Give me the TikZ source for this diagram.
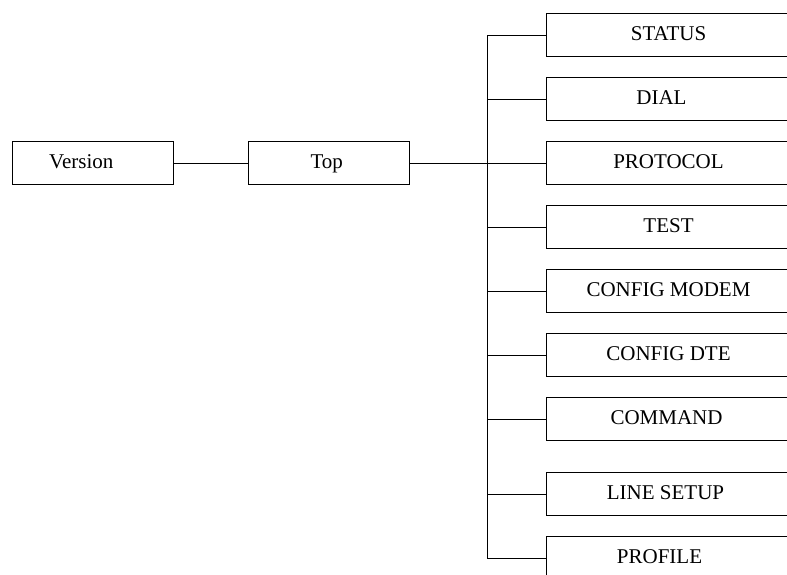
\documentclass[tikz,border=0pt]{standalone}
\usepackage{fontspec}
\setmainfont{Liberation Serif}
\begin{document}
\begin{tikzpicture}[x=1pt,y=-1pt,
  box/.style={draw=black,line width=1pt,rectangle,inner sep=0pt,minimum height=43pt,
    text height=15pt,text depth=3.5pt,
    font=\fontsize{21}{24}\selectfont,anchor=north west},
  leftbox/.style={box,minimum width=160.5pt},
  rightbox/.style={box,minimum width=244pt},
  wire/.style={draw=black,line width=1pt}]
\clip (0,0) rectangle (787,574);
\fill[white] (0,0) rectangle (787,574);
\node[leftbox] (version) at (12,141) {Version\kern23pt};
\node[leftbox] (top) at (248,141) {Top\kern4pt};
\coordinate (bus) at (487,162.5);
\node[rightbox] (s1) at (546,13) {STATUS};
\node[rightbox] (s2) at (546,77) {DIAL\kern14pt};
\node[rightbox] (s3) at (546,141) {PROTOCOL};
\node[rightbox] (s4) at (546,205) {TEST};
\node[rightbox] (s5) at (546,269) {CONFIG MODEM};
\node[rightbox] (s6) at (546,333) {CONFIG DTE};
\node[rightbox] (s7) at (546,397) {COMMAND\kern4pt};
\node[rightbox] (s8) at (546,472) {LINE SETUP\kern6pt};
\node[rightbox] (s9) at (546,536) {PROFILE\kern18pt};
\draw[wire] (version.east) -- (top.west);
\draw[wire] (top.east) -- (bus |- top.east);
\draw[wire] (bus |- s1.west) -- (bus |- s9.west);
\foreach \n in {s1,s2,s3,s4,s5,s6,s7,s8,s9}
  \draw[wire] (bus |- \n.west) -- (\n.west);
\end{tikzpicture}
\end{document}
